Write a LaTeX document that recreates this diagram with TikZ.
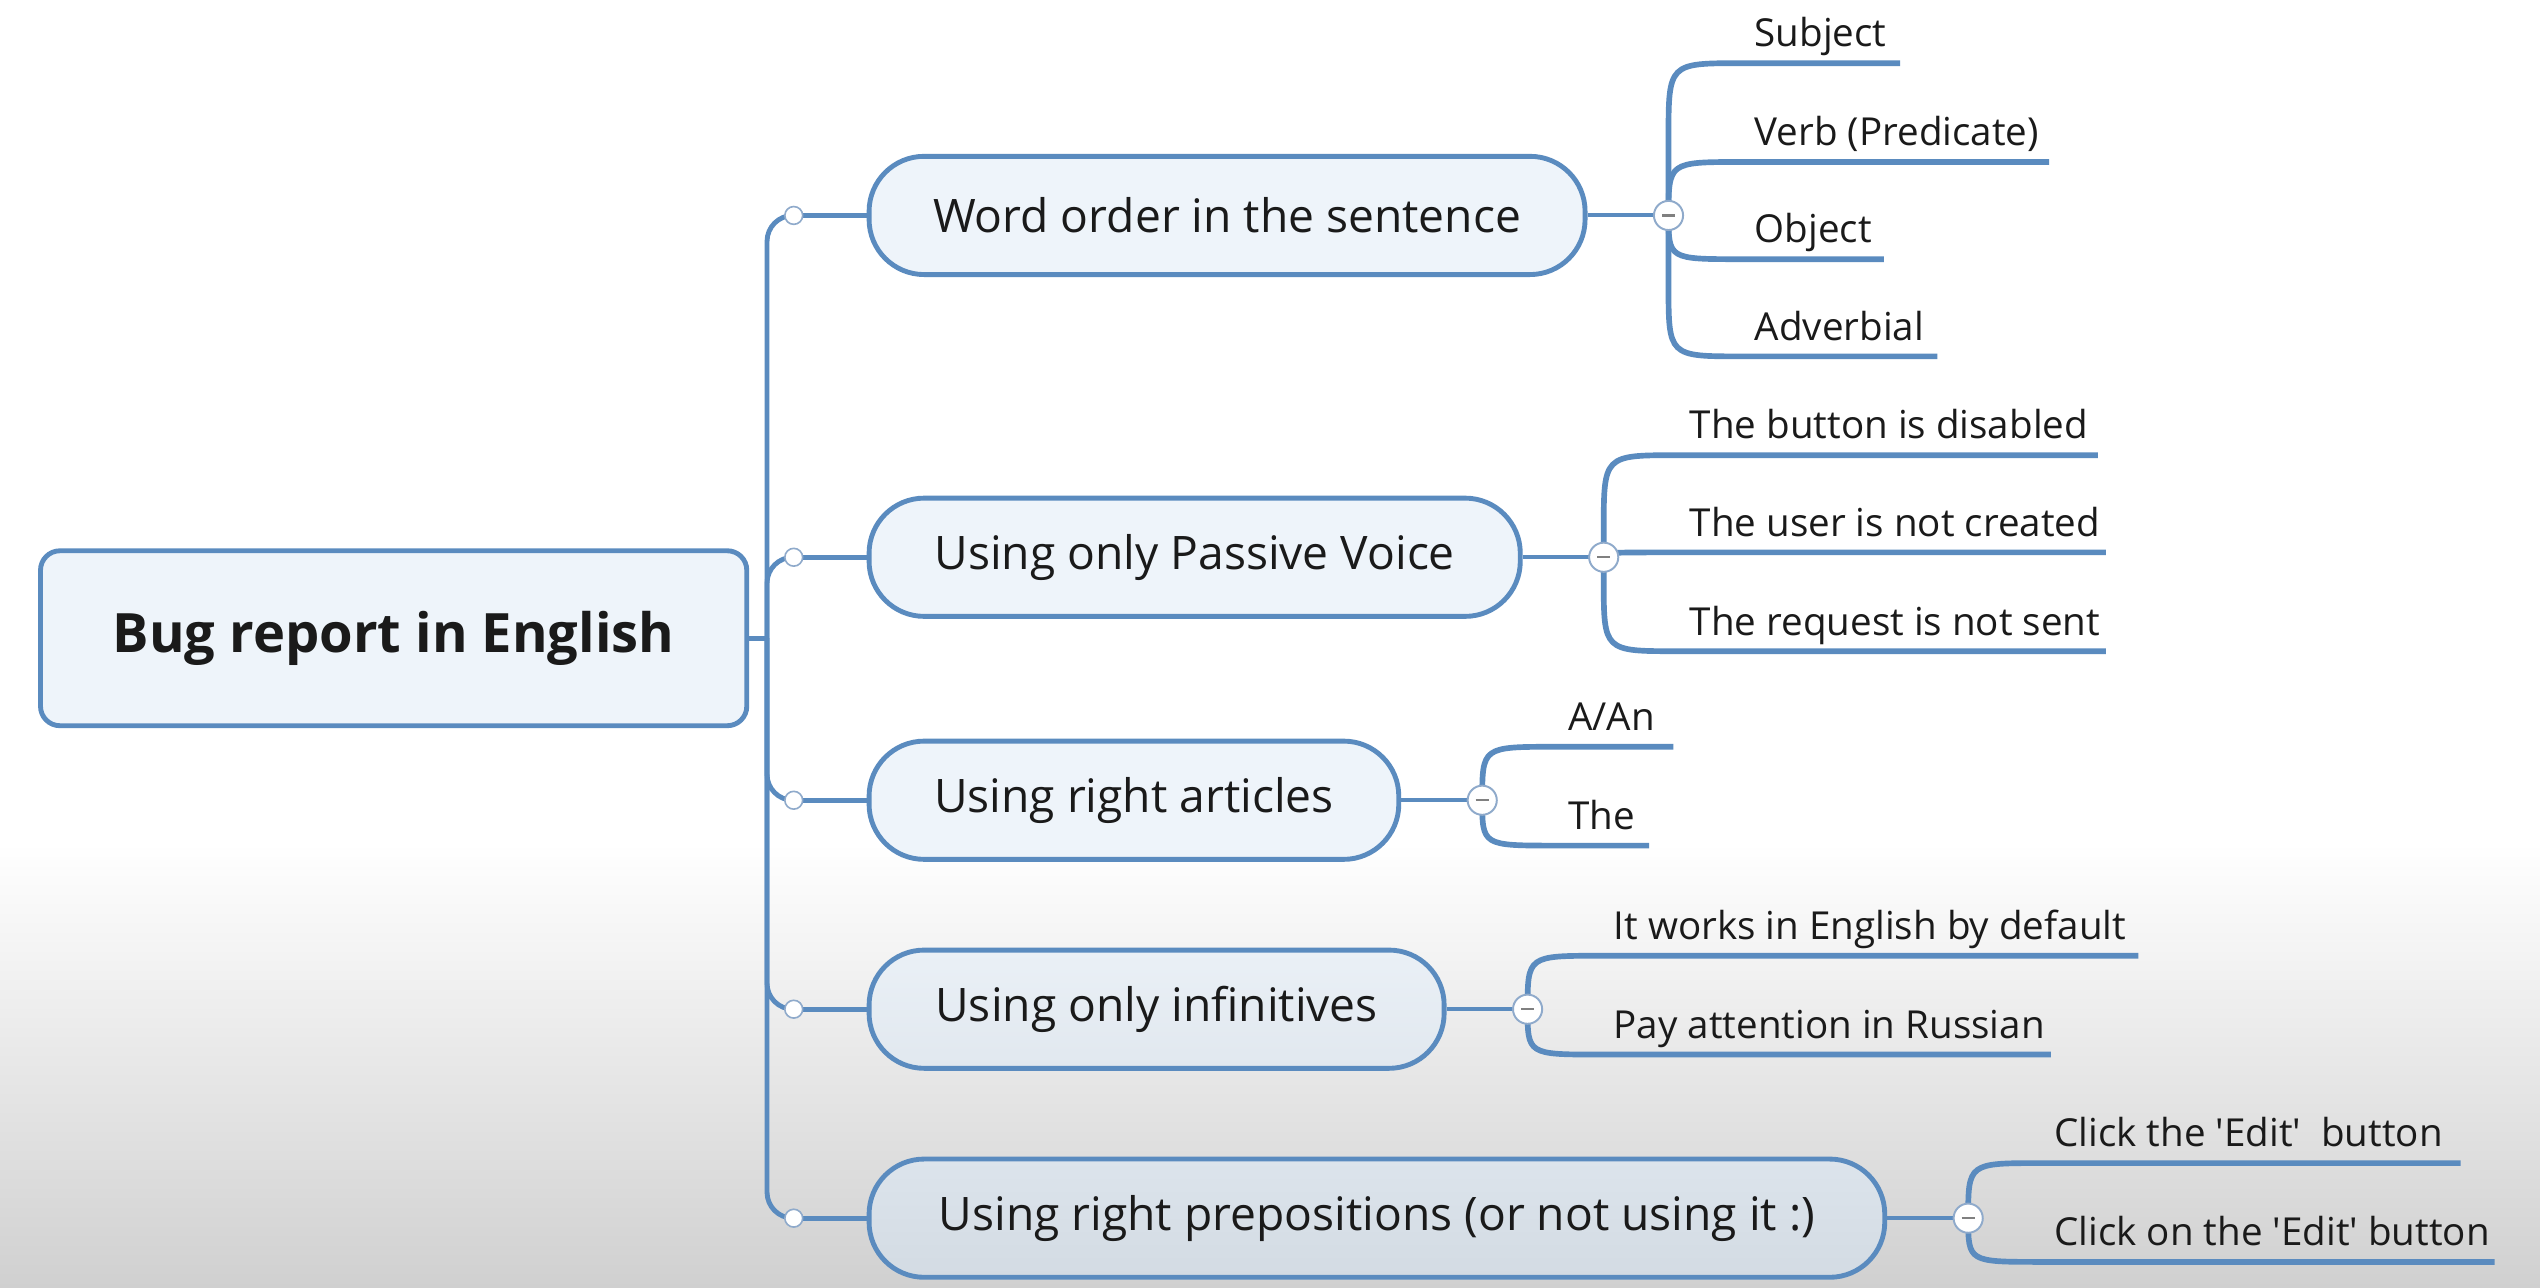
\documentclass[tikz,border=0pt]{standalone}
\usepackage{fontspec}
\setmainfont{Open Sans}
\usetikzlibrary{calc}
\pgfdeclarelayer{bg}\pgfdeclarelayer{lines}
\pgfsetlayers{bg,lines,main}
\definecolor{linec}{HTML}{5A8BBF}
\definecolor{nodefill}{HTML}{EEF4FA}
\definecolor{txt}{HTML}{1A1A1A}
\definecolor{bggray}{HTML}{D0D0D0}
\definecolor{fillA}{HTML}{EAF0F6}
\definecolor{fillB}{HTML}{E1E8EF}
\definecolor{fillC}{HTML}{DCE4EC}
\definecolor{fillD}{HTML}{D3DBE3}
\definecolor{foldc}{HTML}{8FAACB}
\newcommand\kidbranch[4]{%
  \draw[kidline] (#1.center) -- ($(#1.center |- #2.base)+(0,#3)$)
    .. controls ($(#1.center |- #2.base)+(0,10)$) .. ($(#2.base west)+(-8,10)$)
    -- ($(#2.base west)+(#4,10)$);}
\begin{document}
\begin{tikzpicture}[x=1pt,y=-1pt,
  rootbox/.style={draw=linec, line width=3pt, fill=nodefill, rounded corners=12pt,
    minimum width=436pt, minimum height=108pt, inner sep=0pt,
    font=\fontsize{33.5}{38}\selectfont\bfseries, text=txt},
  topic/.style={draw=linec, line width=3pt, fill=nodefill, rounded corners=34pt,
    minimum height=73pt, inner sep=0pt, anchor=west,
    font=\fontsize{28.5}{33}\selectfont, text=txt},
  kid/.style={anchor=base west, inner sep=0pt, font=\fontsize{23.8}{28}\selectfont, text=txt},
  dot/.style={circle, draw=foldc, fill=white, line width=1pt, minimum size=11pt, inner sep=0pt},
  fold/.style={circle, draw=foldc, fill=white, line width=1.2pt, minimum size=18pt, inner sep=0pt,
    path picture={\draw[gray, line width=1.4pt]
      ([xshift=-4pt]path picture bounding box.center) -- ([xshift=4pt]path picture bounding box.center);}},
  mainline/.style={draw=linec, line width=3pt},
  stem/.style={draw=linec, line width=2.5pt},
  kidline/.style={draw=linec, line width=3.5pt}
]
\useasboundingbox (0,0) rectangle (1568,795);
\begin{pgfonlayer}{bg}
  \fill[white] (0,0) rectangle (1568,795);
  \shade[top color=white, bottom color=bggray] (0,520) rectangle (1568,795);
\end{pgfonlayer}

% root and topics
\node[rootbox] (root) at (243,394) {Bug report in English};
\node[topic, minimum width=442pt] (n1) at (535,133) {Word order in the sentence};
\node[topic, minimum width=402pt] (n2) at (535,344) {Using only Passive Voice};
\node[topic, minimum width=327pt] (n3) at (535,494) {Using right articles};
\node[topic, minimum width=355pt, top color=fillA, bottom color=fillB] (n4) at (535,623) {Using only infinitives};
\node[topic, minimum width=627pt, top color=fillC, bottom color=fillD] (n5) at (535,752) {Using right prepositions (or not using it :)};

% small dots on the trunk branches
\node[dot] (d1) at (490,133) {};
\node[dot] (d2) at (490,344) {};
\node[dot] (d3) at (490,494) {};
\node[dot] (d4) at (490,623) {};
\node[dot] (d5) at (490,752) {};

% fold circles
\node[fold] (k1) at ($(n1.east)+(50,0)$) {};
\node[fold] (k2) at ($(n2.east)+(50,0)$) {};
\node[fold] (k3) at ($(n3.east)+(50,0)$) {};
\node[fold] (k4) at ($(n4.east)+(50,0)$) {};
\node[fold] (k5) at ($(n5.east)+(50,0)$) {};

% children
\node[kid] (s1) at ($(k1.center)+(53,-104)$) {Subject};
\node[kid] (s2) at ($(k1.center)+(53,-43)$) {Verb (Predicate)};
\node[kid] (s3) at ($(k1.center)+(53,17)$) {Object};
\node[kid] (s4) at ($(k1.center)+(53,77)$) {Adverbial};

\node[kid] (p1) at ($(k2.center)+(53,-73)$) {The button is disabled};
\node[kid] (p2) at ($(k2.center)+(53,-13)$) {The user is not created};
\node[kid] (p3) at ($(k2.center)+(53,48)$) {The request is not sent};

\node[kid] (a1) at ($(k3.center)+(53,-43)$) {A/An};
\node[kid] (a2) at ($(k3.center)+(53,18)$) {The};

\node[kid] (i1) at ($(k4.center)+(53,-43)$) {It works in English by default};
\node[kid] (i2) at ($(k4.center)+(53,18)$) {Pay attention in Russian};

\node[kid] (r1) at ($(k5.center)+(53,-44)$) {Click the \textquotesingle Edit\textquotesingle\ \ button};
\node[kid] (r2) at ($(k5.center)+(53,17)$) {Click on the \textquotesingle Edit\textquotesingle\ button};

\begin{pgfonlayer}{lines}
  \coordinate (T) at ($(root.east)+(11,0)$);
  \draw[mainline] (root.east) -- (T);
  \foreach \i in {1,...,5}{
    \draw[mainline, rounded corners=16pt] (T) |- (d\i.center);
    \draw[mainline] (d\i.center) -- (n\i.west);
    \draw[stem] (n\i.east) -- (k\i.center);
  }
  \kidbranch{k1}{s1}{56}{90}
  \kidbranch{k1}{s2}{43}{182}
  \kidbranch{k1}{s3}{-17}{80}
  \kidbranch{k1}{s4}{-34}{113}
  \kidbranch{k2}{p1}{56}{252}
  \kidbranch{k2}{p2}{13}{257}
  \kidbranch{k2}{p3}{-34}{257}
  \kidbranch{k3}{a1}{43}{65}
  \kidbranch{k3}{a2}{-18}{50}
  \kidbranch{k4}{i1}{43}{324}
  \kidbranch{k4}{i2}{-18}{270}
  \kidbranch{k5}{r1}{44}{251}
  \kidbranch{k5}{r2}{-17}{272}
\end{pgfonlayer}
\end{tikzpicture}
\end{document}
